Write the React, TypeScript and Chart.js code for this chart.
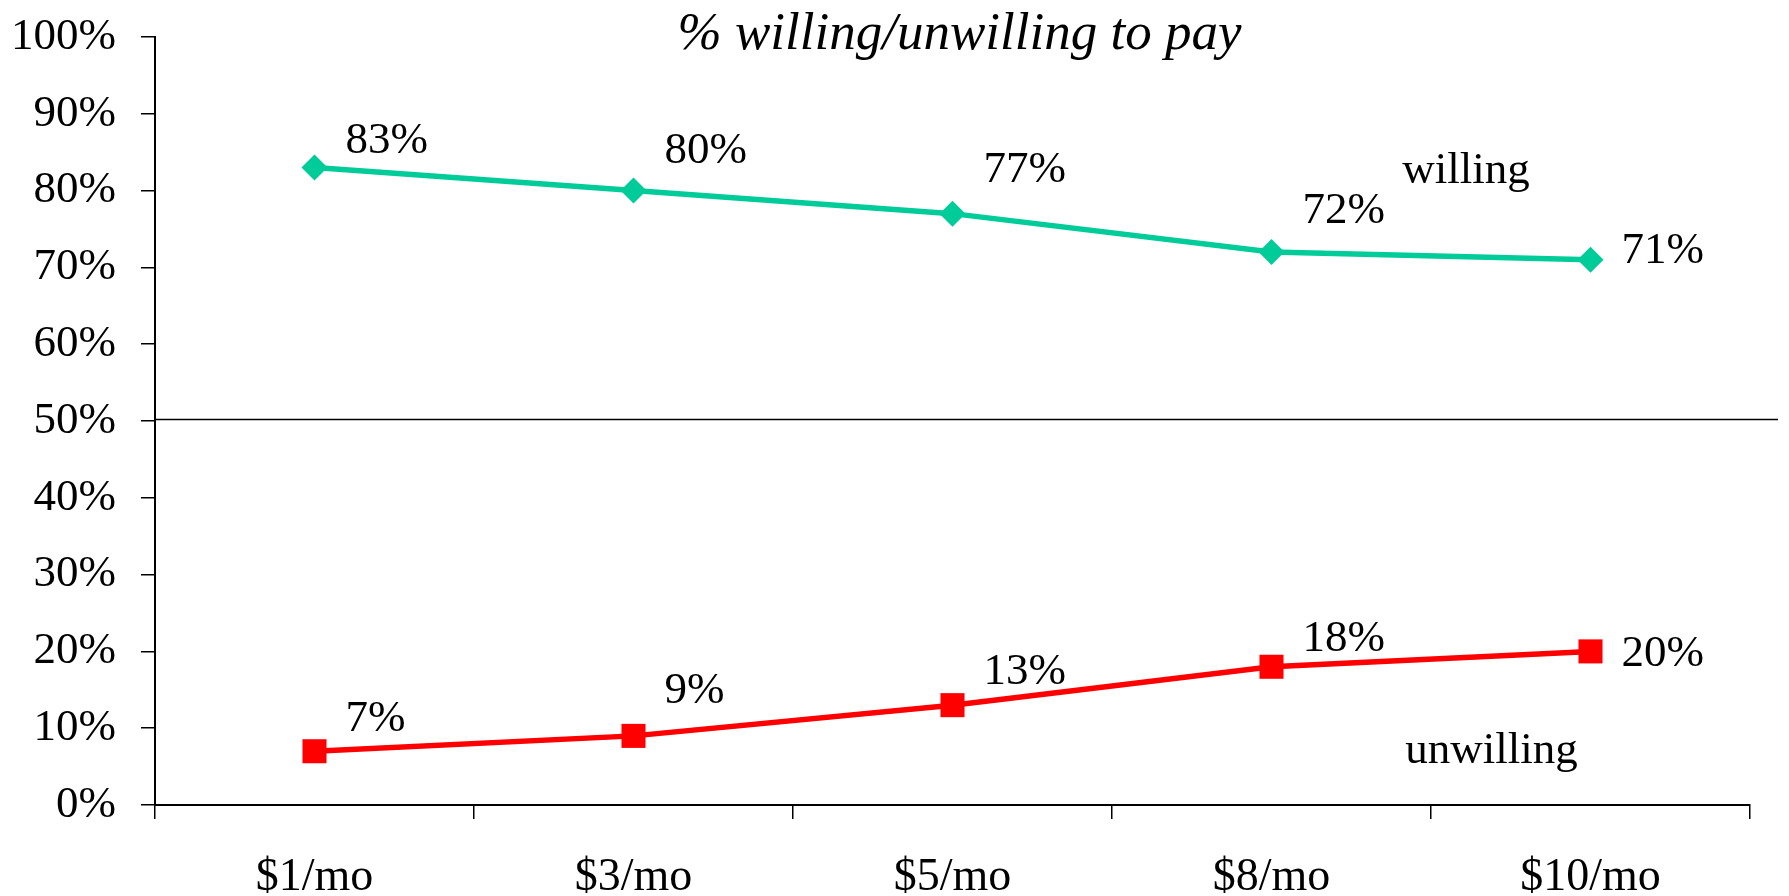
import React, { useEffect, useRef } from "react";
import { Chart, registerables } from "chart.js";

Chart.register(...registerables);

// ---- data ----
const categories = ["$1/mo", "$3/mo", "$5/mo", "$8/mo", "$10/mo"];
const willingValues = [83, 80, 77, 72, 71];
const unwillingValues = [7, 9, 13, 18, 20];
const yTickValues = [0, 10, 20, 30, 40, 50, 60, 70, 80, 90, 100];
const chartTitle = "% willing/unwilling to pay";
const seriesNames = ["willing", "unwilling"];
const dividerValue = 50.3;

// ---- styles ----
const SERIF = "'Times New Roman', 'Liberation Serif', serif";
const GREEN = "#00CC99";
const RED = "#FF0000";
const W = 1789;
const H = 896;

// label placement (relative to each point, pixels)
const labelDx = 31;
const willingLabelDy = [-15, -28, -32, -29, 3];
const unwillingLabelDy = [-20, -33, -21, -16, 15];
// series name anchors in data units (category index, value) – alphabetic baseline
const seriesNameAnchors = [
  { idx: 3.61, val: 81.0 },
  { idx: 3.69, val: 5.5 },
];

const annotations = {
  id: "annotations",
  afterDatasetsDraw(chart: any) {
    const { ctx, chartArea, scales } = chart;
    const x = scales.x;
    const y = scales.y;
    ctx.save();

    // divider line at ~50%
    ctx.strokeStyle = "#000";
    ctx.lineWidth = 1.5;
    const yd = Math.round(y.getPixelForValue(dividerValue)) + 0.5;
    ctx.beginPath();
    ctx.moveTo(chartArea.left, yd);
    ctx.lineTo(chartArea.right + 28, yd);
    ctx.stroke();

    // data labels
    ctx.fillStyle = "#000";
    ctx.font = `45px ${SERIF}`;
    ctx.textAlign = "left";
    ctx.textBaseline = "alphabetic";
    const sets = [
      { vals: willingValues, dy: willingLabelDy },
      { vals: unwillingValues, dy: unwillingLabelDy },
    ];
    sets.forEach((s, si) => {
      const meta = chart.getDatasetMeta(si);
      s.vals.forEach((v, i) => {
        const pt = meta.data[i];
        ctx.fillText(`${v}%`, pt.x + labelDx, pt.y + s.dy[i]);
      });
    });

    // series names
    ctx.textAlign = "center";
    seriesNames.forEach((name, i) => {
      const a = seriesNameAnchors[i];
      const i0 = Math.floor(a.idx);
      const frac = a.idx - i0;
      const px =
        x.getPixelForValue(i0) + frac * (x.getPixelForValue(i0 + 1) - x.getPixelForValue(i0));
      ctx.fillText(name, px, y.getPixelForValue(a.val));
    });

    // title
    ctx.font = `italic 53px ${SERIF}`;
    ctx.textAlign = "center";
    ctx.fillText(chartTitle, (chartArea.left + chartArea.right) / 2 + 7, 49);

    ctx.restore();
  },
};

export default function App() {
  const canvasRef = useRef<HTMLCanvasElement | null>(null);

  useEffect(() => {
    const canvas = canvasRef.current;
    if (!canvas) return;
    const chart = new Chart(canvas, {
      type: "line",
      data: {
        labels: categories,
        datasets: [
          {
            label: seriesNames[0],
            data: willingValues,
            borderColor: GREEN,
            backgroundColor: GREEN,
            borderWidth: 5.5,
            pointStyle: "rectRot",
            pointRadius: 13,
            pointBorderWidth: 0,
            pointBackgroundColor: GREEN,
            tension: 0,
          },
          {
            label: seriesNames[1],
            data: unwillingValues,
            borderColor: RED,
            backgroundColor: RED,
            borderWidth: 5.5,
            pointStyle: "rect",
            pointRadius: 17,
            pointBorderWidth: 0,
            pointBackgroundColor: RED,
            tension: 0,
          },
        ],
      },
      options: {
        responsive: false,
        animation: false,
        events: [],
        layout: { padding: { top: 37, right: 39, left: 0, bottom: 0 } },
        plugins: {
          legend: { display: false },
          title: { display: false },
          tooltip: { enabled: false },
        },
        scales: {
          x: {
            type: "category",
            offset: true,
            grid: {
              display: true,
              offset: true,
              drawOnChartArea: false,
              drawTicks: true,
              tickLength: 14,
              color: "#000",
              lineWidth: 1.5,
            },
            border: { display: true, color: "#000", width: 2 },
            ticks: {
              color: "#000",
              font: { family: SERIF, size: 46 },
              padding: 31,
              maxRotation: 0,
              autoSkip: false,
            },
            afterFit(scale: any) {
              scale.height = 91;
              scale.paddingLeft = 0;
              scale.paddingRight = 0;
            },
          },
          y: {
            min: 0,
            max: 100,
            afterBuildTicks(scale: any) {
              scale.ticks = yTickValues.map((v) => ({ value: v }));
            },
            grid: {
              display: true,
              drawOnChartArea: false,
              drawTicks: true,
              tickLength: 14,
              color: "#000",
              lineWidth: 1.5,
            },
            border: { display: true, color: "#000", width: 2 },
            ticks: {
              color: "#000",
              font: { family: SERIF, size: 45 },
              padding: 25,
              callback: (v: any) => `${v}%`,
            },
            afterFit(scale: any) {
              scale.width = 155;
              scale.paddingTop = 0;
              scale.paddingBottom = 0;
            },
          },
        },
      },
      plugins: [annotations],
    });
    return () => chart.destroy();
  }, []);

  return (
    <div style={{ position: "fixed", left: 0, top: 0, width: W, height: H, background: "#fff" }}>
      <canvas ref={canvasRef} width={W} height={H} style={{ display: "block" }} />
    </div>
  );
}
